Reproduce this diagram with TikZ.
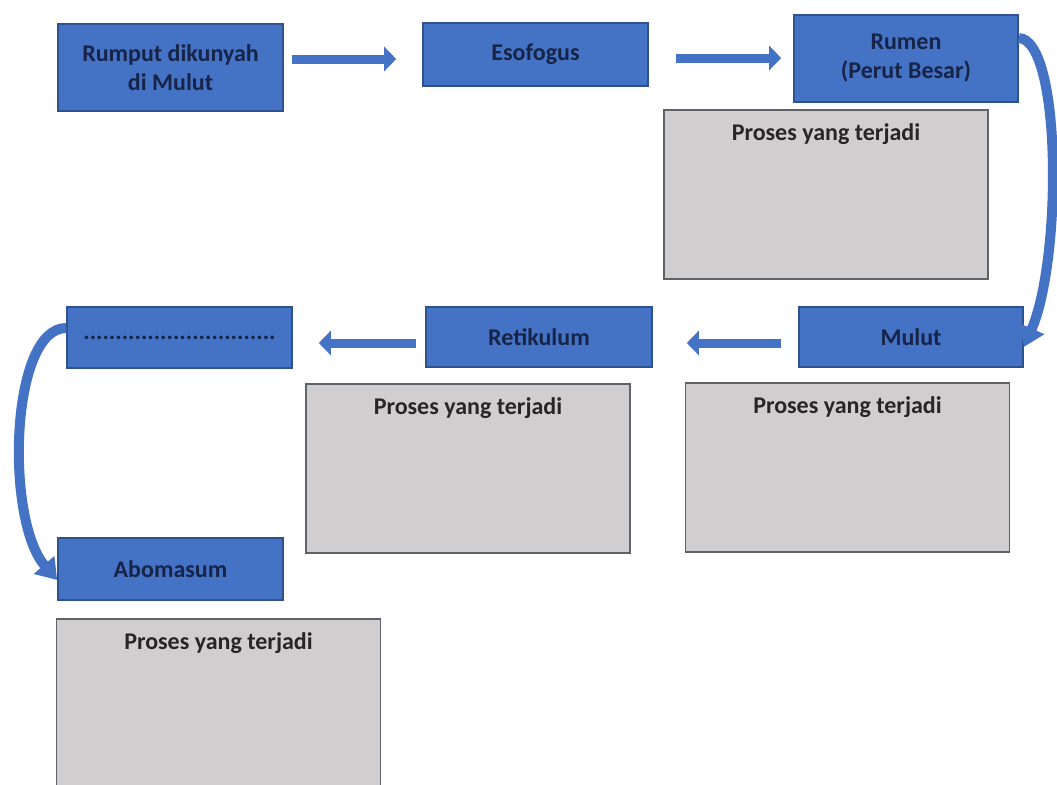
\documentclass[tikz,border=0pt]{standalone}
\usepackage{fontspec}
\setmainfont{Carlito}
\usepackage{tikz}
\usetikzlibrary{arrows.meta}

\definecolor{boxblue}{HTML}{4472C4}
\definecolor{boxedge}{HTML}{2F528F}
\definecolor{textnavy}{HTML}{172448}
\definecolor{procgray}{HTML}{D0CECE}
\definecolor{procedge}{HTML}{5F6368}

\begin{document}
\begin{tikzpicture}[x=0.5pt,y=-0.5pt,
    organ/.style={draw=boxedge,line width=0.8pt,fill=boxblue,text=textnavy,
        font=\fontsize{12}{14.5}\selectfont\bfseries,align=center,inner sep=0pt},
    proses/.style={draw=procedge,line width=0.8pt,fill=procgray,
        minimum width=162pt,minimum height=84.5pt,inner sep=0pt},
    prosestext/.style={font=\fontsize{12}{14}\selectfont\bfseries,text=black!85},
    flowarrow/.style={draw=boxblue,line width=4.5pt,
        -{Triangle[width=12pt,length=6pt]}},
    bendarrow/.style={draw=boxblue,line width=5pt,
        -{Triangle[width=13pt,length=10pt]}}]
    \useasboundingbox (0,0) rectangle (1057,784);
    \clip (0,0) rectangle (1057,784);
    % Top row
    \node[organ,minimum width=112.5pt,minimum height=43.5pt] (rumput) at (170.5,67.5) {Rumput dikunyah\\di Mulut};
    \node[organ,minimum width=112.5pt,minimum height=31.5pt] (esofogus) at (535.5,54.5) {Esofogus};
    \node[organ,minimum width=112pt,minimum height=43.5pt] (rumen) at (906,58.5) {Rumen\\(Perut Besar)};
    \node[proses] (prosesrumen) at (826,194.5) {};
    \node[prosestext] (tekrumen) at ([yshift=-12.5pt]prosesrumen.north) {Proses yang terjadi};
    % Middle row
    \node[organ,minimum width=112pt,minimum height=30pt] (mulut) at (911,337) {Mulut};
    \node[organ,minimum width=113pt,minimum height=30pt] (retikulum) at (539,337) {Retikulum};
    \node[organ,minimum width=112.5pt,minimum height=30.5pt] (titik) at (179.5,337.5) {..............................};
    \node[proses] (prosesmulut) at (847.5,467.5) {};
    \node[prosestext] (tekmulut) at ([yshift=-12.5pt]prosesmulut.north) {Proses yang terjadi};
    \node[proses] (prosesretik) at (468,468.5) {};
    \node[prosestext] (tekretik) at ([yshift=-12.5pt]prosesretik.north) {Proses yang terjadi};
    % Bottom row
    \node[organ,minimum width=112.5pt,minimum height=31pt] (abomasum) at (170.5,569) {Abomasum};
    \node[proses] (prosesabom) at (218.5,703.5) {};
    \node[prosestext] (tekabom) at ([yshift=-12.5pt]prosesabom.north) {Proses yang terjadi};
    % Arrows
    \draw[flowarrow,shorten <=4pt,shorten >=13pt] (rumput.east |- 0,59) -- (esofogus.west |- 0,59);
    \draw[flowarrow,shorten <=13.5pt,shorten >=6pt] (esofogus.east |- 0,58) -- (rumen.west |- 0,58);
    \draw[flowarrow,shorten <=8.5pt,shorten >=17pt] (mulut.west |- 0,343) -- (retikulum.east |- 0,343);
    \draw[flowarrow,shorten <=4.5pt,shorten >=13pt] (retikulum.west |- 0,343) -- (titik.east |- 0,343);
    \draw[bendarrow] (rumen.east |- 0,38) .. controls (1062,40) and (1062,260) .. (mulut.east |- 0,347);
    \draw[bendarrow] (titik.west |- 0,328) .. controls (10,328) and (5,520) .. (abomasum.west |- 0,580);
\end{tikzpicture}
\end{document}
